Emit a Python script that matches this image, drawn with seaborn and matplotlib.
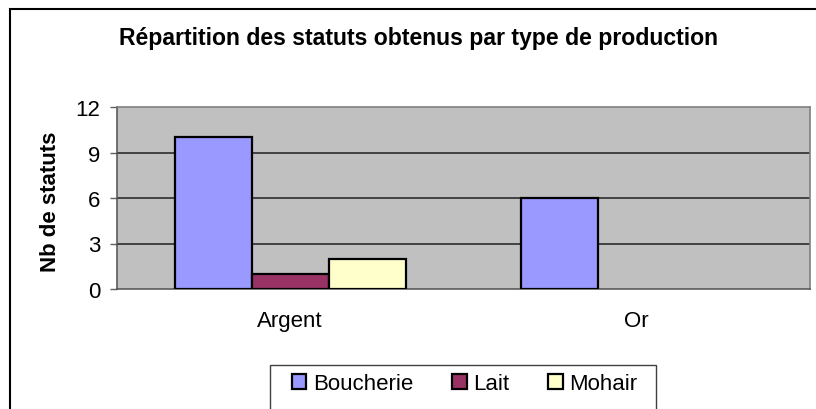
import matplotlib
matplotlib.use("Agg")
import matplotlib.pyplot as plt
import seaborn as sns
import pandas as pd
from matplotlib.patches import Rectangle, Patch
from matplotlib.ticker import FixedLocator

categories = ["Argent", "Or"]
series = ["Boucherie", "Lait", "Mohair"]
boucherie = [10, 6]
lait = [1, 0]
mohair = [2, 0]
colors = ["#9999FF", "#993366", "#FFFFCC"]
yticks = [0, 3, 6, 9, 12]
title = "Répartition des statuts obtenus par type de production"
ylabel = "Nb de statuts"

rows = []
for s, vals in zip(series, [boucherie, lait, mohair]):
    for c, v in zip(categories, vals):
        rows.append({"cat": c, "serie": s, "val": v})
df = pd.DataFrame(rows)

sns.set_theme(style="white")
plt.rcParams["font.family"] = ["Liberation Sans", "DejaVu Sans"]
plt.rcParams["text.color"] = "black"
plt.rcParams["xtick.color"] = "black"
plt.rcParams["ytick.color"] = "black"

W, H = 816, 410
FS = 16
fig = plt.figure(figsize=(W / 100, H / 100), dpi=100)
fig.patch.set_facecolor("white")
ax = fig.add_axes([117 / W, 1 - 290 / H, (810 - 117) / W, (290 - 108) / H])
ax.set_facecolor("#C0C0C0")

sns.barplot(data=df, x="cat", y="val", hue="serie", hue_order=series,
            order=categories, palette=colors, width=2 / 3, ax=ax,
            edgecolor="black", linewidth=1.6, saturation=1, legend=False, zorder=3)
for p in ax.patches:
    if p.get_height() == 0:
        p.set_linewidth(0)

ax.set_xlim(-0.5, 1.5)
ax.set_ylim(0, 12)
ax.set_yticks(yticks)
ax.set_yticklabels([str(t) for t in yticks], fontsize=FS)
for t in [3, 6, 9]:
    ax.axhline(t, color="#202020", lw=1.1, zorder=1)
ax.set_xticks([0, 1])
ax.set_xticklabels(categories, fontsize=FS)
ax.xaxis.set_minor_locator(FixedLocator([-0.5, 0.5, 1.5]))
ax.tick_params(axis="x", which="major", length=0, pad=15)
ax.tick_params(axis="x", which="minor", length=5, width=1, color="#606060", direction="out")
ax.tick_params(axis="y", length=5, width=1, color="#606060", direction="out", pad=7, left=True)
ax.set_xlabel("")
ax.set_ylabel("")
for side in ["top", "right"]:
    ax.spines[side].set_color("#808080")
    ax.spines[side].set_linewidth(1.2)
for side in ["left", "bottom"]:
    ax.spines[side].set_color("#505050")
    ax.spines[side].set_linewidth(1.1)

fig.text(419 / W, 1 - 39 / H, title, ha="center", va="center",
         fontsize=16.6, fontweight="bold")
fig.text(50 / W, 1 - 202 / H, ylabel, ha="center", va="center",
         rotation=90, fontsize=FS, fontweight="bold")

handles = [Patch(facecolor=c, edgecolor="black", linewidth=1.6) for c in colors]
leg = fig.legend(handles, series, loc="center left",
                 bbox_to_anchor=(292 / W, 1 - 385 / H), ncol=3, fontsize=FS,
                 frameon=False, borderaxespad=0, borderpad=0,
                 handlelength=0.65, handleheight=0.65, handletextpad=0.3,
                 columnspacing=1.75)

# legend box (Excel-style frame with wider horizontal padding)
fig.patches.append(Rectangle((270 / W, -0.1), (656 - 270) / W, 0.1 + 1 - 366 / H,
                             transform=fig.transFigure, fill=False,
                             edgecolor="#404040", linewidth=1.0, clip_on=False))

fig.patches.append(Rectangle((10 / W, -0.1), 1.2, 1.1 - 10 / H, transform=fig.transFigure,
                             fill=False, edgecolor="black", linewidth=1.5, clip_on=False))

fig.savefig("out.png", dpi=100)
